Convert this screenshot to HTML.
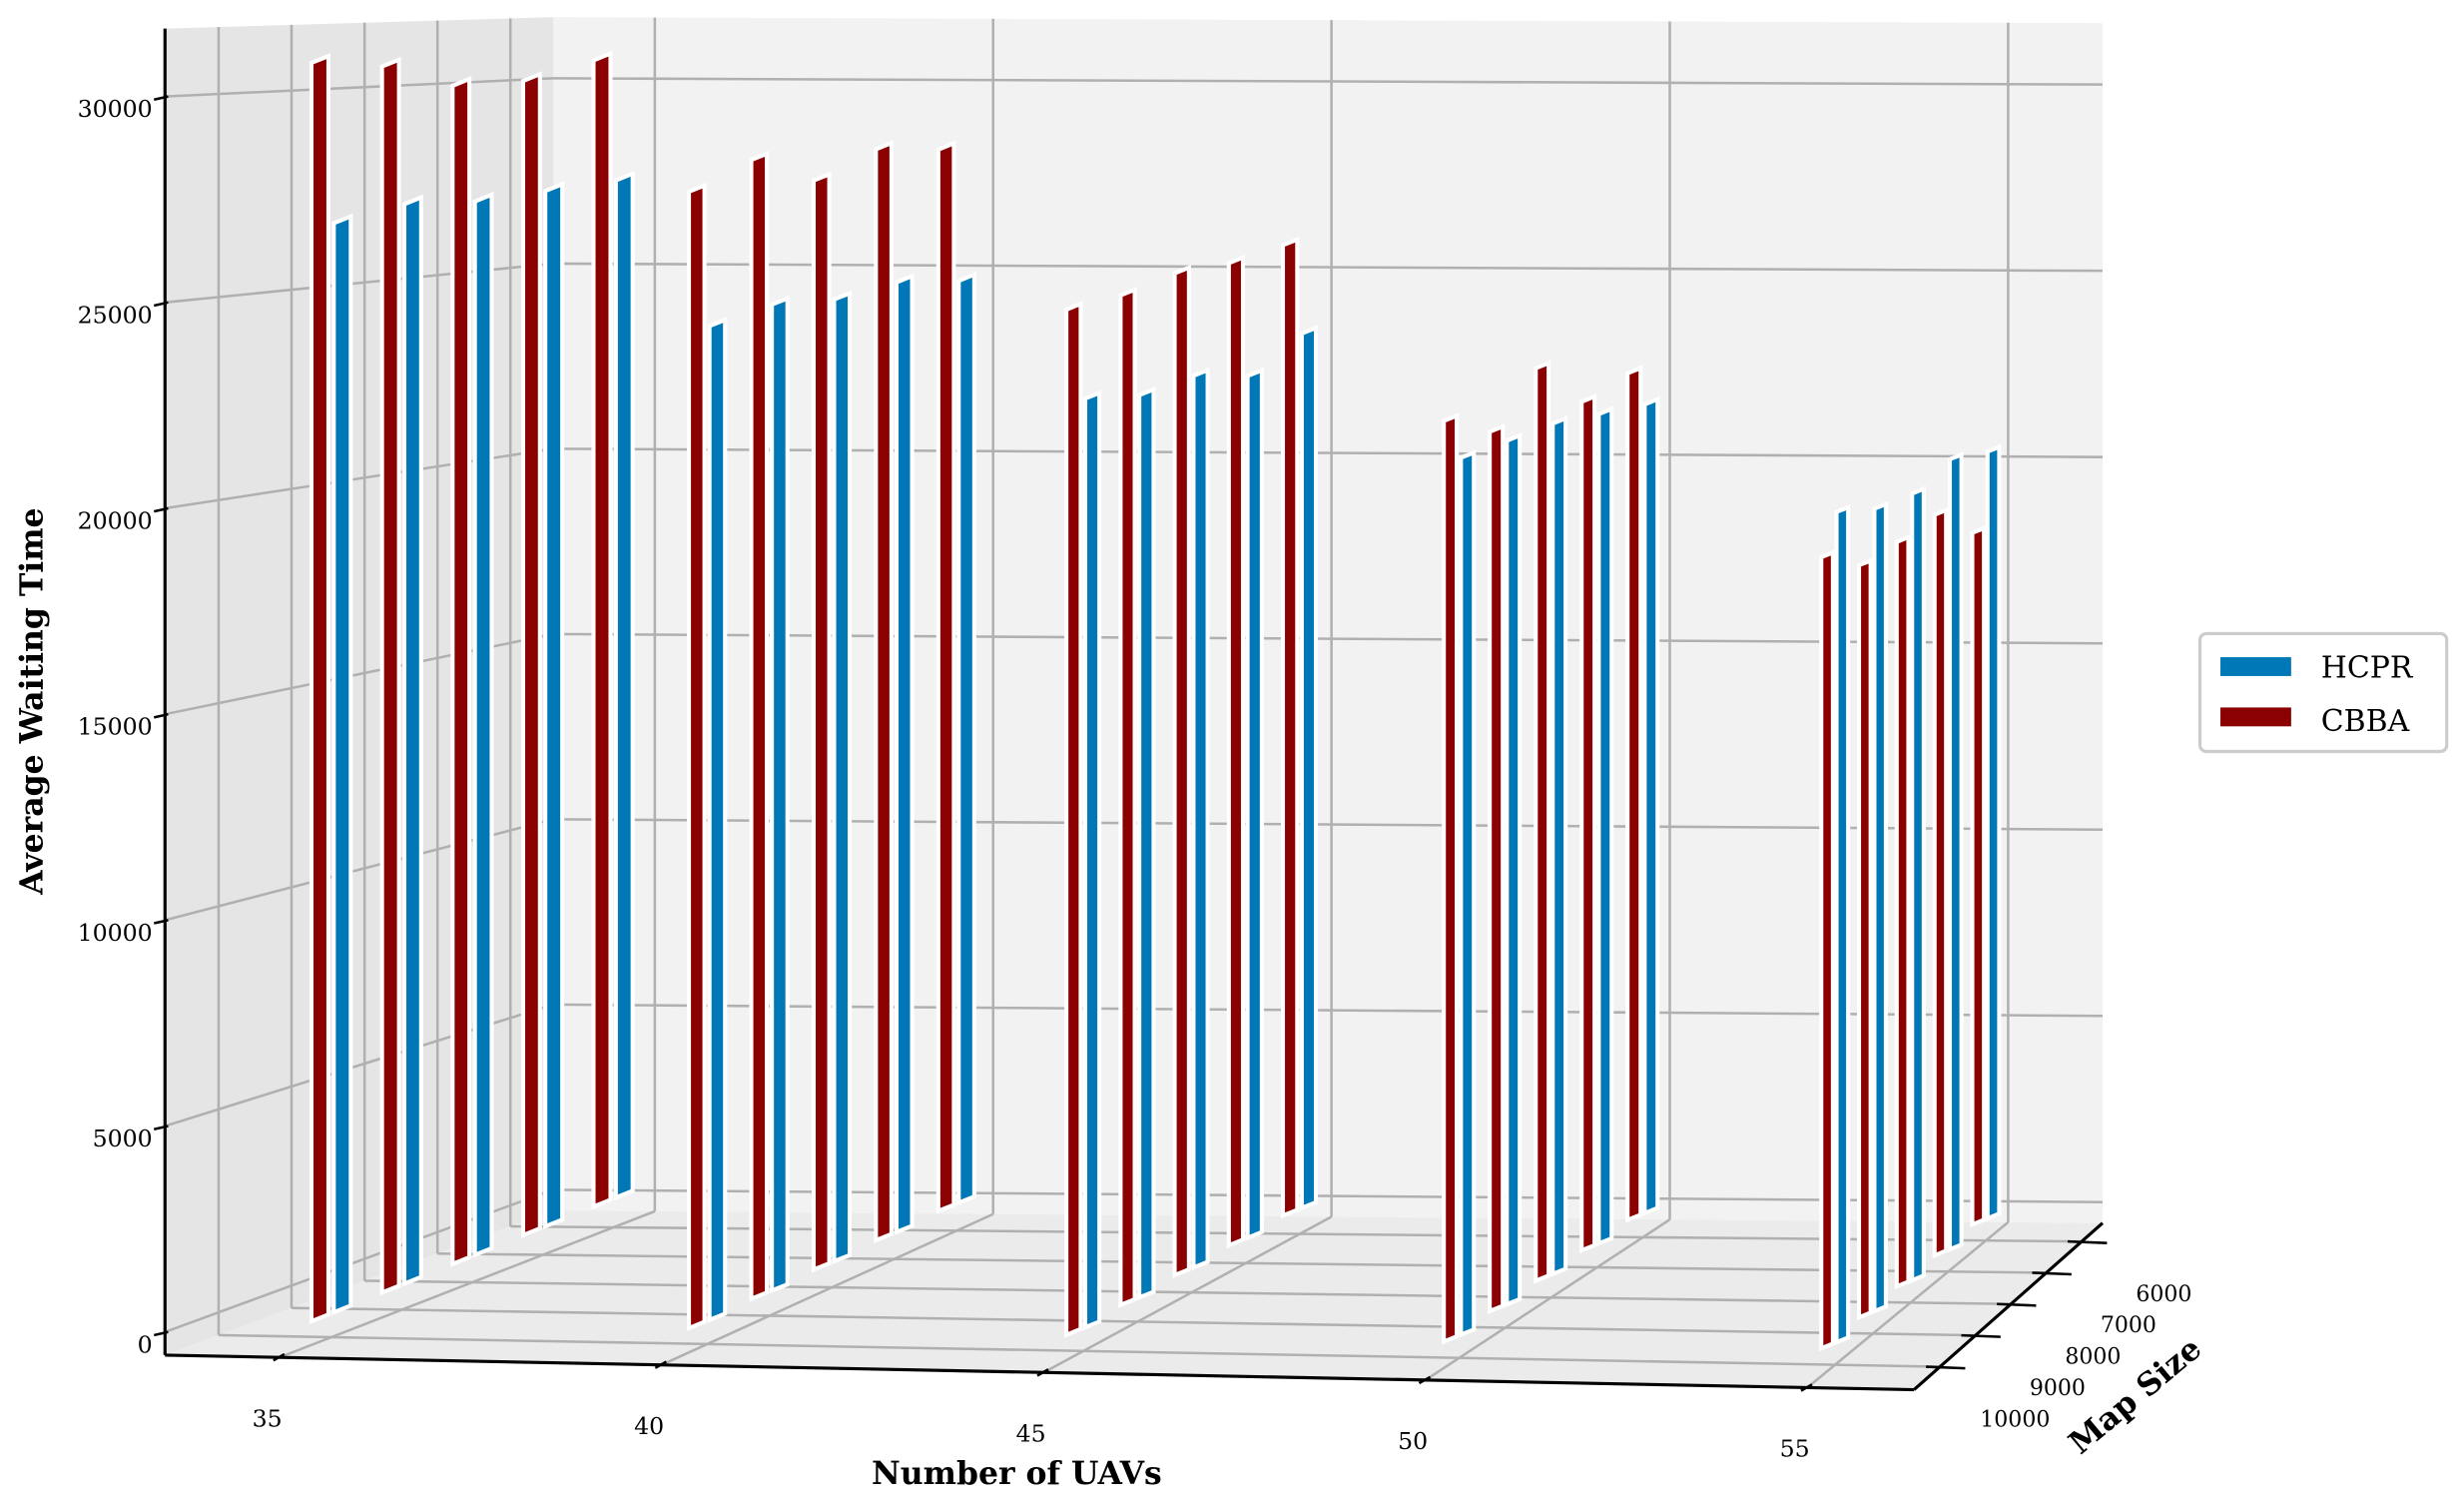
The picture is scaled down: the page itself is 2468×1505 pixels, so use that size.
<!DOCTYPE html>
<html><head><meta charset="utf-8"><style>
html,body{margin:0;padding:0;background:#fff;}
svg{display:block;font-family:"DejaVu Serif","Liberation Serif",serif;}
</style></head><body>
<svg id="chart" width="2468" height="1505" viewBox="0 0 1568 956" xmlns="http://www.w3.org/2000/svg">
<g id="panes"></g>
<g id="grid"></g>
<g id="axes"></g>
<g id="bars"></g>
<g id="labels"></g>
<text x="0" y="0" transform="translate(27,446) rotate(-90)" text-anchor="middle" font-size="20" font-weight="bold">Average Waiting Time</text>
<text x="647" y="944" text-anchor="middle" font-size="20" font-weight="bold">Number of UAVs</text>
<text x="0" y="0" transform="translate(1363,893) rotate(-40)" text-anchor="middle" font-size="20" font-weight="bold">Map Size</text>
<g>
<rect x="1400" y="403" width="157" height="75" rx="4" fill="#fff" stroke="#cccccc" stroke-width="2"/>
<rect x="1413" y="418" width="45" height="12" fill="#0077b6"/>
<text x="1477" y="431" font-size="19">HCPR</text>
<rect x="1413" y="450" width="45" height="12" fill="#8b0000"/>
<text x="1477" y="465" font-size="19">CBBA</text>
</g>
</svg>
<script>
const uavs = [35, 40, 45, 50, 55];
const mapSizes = [6000, 7000, 8000, 9000, 10000];
const zTicks = [0, 5000, 10000, 15000, 20000, 25000, 30000];
// values indexed [uav][mapSize in order 6000..10000]
const cbba = [
  [29300, 29100, 29300, 30100, 30500],
  [27400, 27800, 27400, 28300, 27900],
  [25300, 25300, 25500, 25400, 25500],
  [22300, 22100, 23500, 22400, 23200],
  [18400, 19500, 19400, 19400, 20200]
];
const hcpr = [
  [26000, 26100, 26200, 26500, 26400],
  [23800, 24200, 24200, 24500, 24400],
  [22800, 22200, 22700, 22700, 23100],
  [21300, 21600, 21900, 22000, 22100],
  [20400, 20800, 20500, 20700, 21200]
];

const NS = 'http://www.w3.org/2000/svg';
const F0=[105,862],F1=[1218,884],B0=[352,770],B1=[1338,778];
const sFL=0.0262,sFR=0.0250,sBL=0.02357,sBR=0.0237;
const zmin=-560, zmax=31650;
function lerp(a,b,t){return [a[0]+(b[0]-a[0])*t,a[1]+(b[1]-a[1])*t];}
function uOf(n){return 0.0656+(n-35)*0.04367;}
function vOf(m){return 0.138+(10000-m)/4000*0.752;}
function floorPt(u,v){return lerp(lerp(F0,F1,u),lerp(B0,B1,u),v);}
function sc(u,v){const a=sFL+(sFR-sFL)*u,b=sBL+(sBR-sBL)*u;return a+(b-a)*v;}
function pt(u,v,z){const p=floorPt(u,v);return [p[0],p[1]-(z-zmin)*sc(u,v)];}
function mk(tag,parent,attrs){const e=document.createElementNS(NS,tag);for(const k in attrs)e.setAttribute(k,attrs[k]);parent.appendChild(e);return e;}
const panes=document.getElementById('panes'),grid=document.getElementById('grid'),axes=document.getElementById('axes'),bars=document.getElementById('bars'),labels=document.getElementById('labels');
function poly(ps){return ps.map(p=>p[0].toFixed(1)+','+p[1].toFixed(1)).join(' ');}

let e;
e=mk('polygon',panes,{points:poly([pt(0,0,zmin),pt(0,1,zmin),pt(0,1,zmax),pt(0,0,zmax)]),fill:'#e5e5e5'});


e=mk('polygon',panes,{points:poly([pt(0,1,zmin),pt(1,1,zmin),pt(1,1,zmax),pt(0,1,zmax)]),fill:'#f2f2f2'});


e=mk('polygon',panes,{points:poly([pt(0,0,zmin),pt(1,0,zmin),pt(1,1,zmin),pt(0,1,zmin)]),fill:'#ebebeb'});



function line(parent,a,b,stroke,w,name){const l=mk('line',parent,{x1:a[0].toFixed(1),y1:a[1].toFixed(1),x2:b[0].toFixed(1),y2:b[1].toFixed(1),stroke:stroke,'stroke-width':w});


return l;}
const G='#b0b0b0',GW=1.6;
zTicks.forEach(z=>{line(grid,pt(0,0,z),pt(0,1,z),G,GW,'z-gridline');line(grid,pt(0,1,z),pt(1,1,z),G,GW,'z-gridline');});
uavs.forEach(n=>{const u=uOf(n);line(grid,pt(u,1,zmin),pt(u,1,zmax),G,GW,'uav-gridline');line(grid,pt(u,0,zmin),pt(u,1,zmin),G,GW,'uav-gridline');});
mapSizes.forEach(m=>{const v=vOf(m);line(grid,pt(0,v,zmin),pt(0,v,zmax),G,GW,'map-gridline');line(grid,pt(0,v,zmin),pt(1,v,zmin),G,GW,'map-gridline');});

line(axes,pt(0,0,zmin),pt(0,0,zmax),'#000',2,'z-axis-line');
line(axes,pt(0,0,zmin),pt(1,0,zmin),'#000',2,'x-axis-line');
line(axes,pt(1,0,zmin),pt(1,1,zmin),'#000',2,'map-axis-line');
zTicks.forEach(z=>{const p=pt(0,0,z);line(axes,[p[0]-7,p[1]+2],[p[0]+2,p[1]],'#000',1.6,'z-tick');
  const t=mk('text',labels,{x:p[0]-8,y:p[1]+13,'text-anchor':'end','font-size':15});t.textContent=z;
  
  });
uavs.forEach(n=>{const p=pt(uOf(n),0,zmin);line(axes,[p[0]-4,p[1]+2],[p[0]+3,p[1]-2],'#000',1.6,'x-tick');
  const t=mk('text',labels,{x:p[0]-8,y:p[1]+44,'text-anchor':'middle','font-size':15});t.textContent=n;
  
  });
mapSizes.forEach(m=>{const p=pt(1,vOf(m),zmin);line(axes,[p[0]-9,p[1]],[p[0]+16,p[1]+1],'#000',1.6,'map-tick');
  const t=mk('text',labels,{x:p[0]+70,y:p[1]+38,'text-anchor':'end','font-size':14});t.textContent=m;
  
  });

function bar(u,v,val,dx,color,name){
  const c0=pt(u,v,0),k=1-0.35*u,w=11*k,s=sc(u,v)*(1+(0.015+0.035*v)*(1-u));
  const c=[c0[0],c0[1]-6*v*(1-u)];
  const x=c[0]+dx*k;
  const yb=x2=>c[1]-(x2-c[0])*0.4;
  const h=val*s;
  const ps=[[x,yb(x)],[x+w,yb(x+w)],[x+w,yb(x+w)-h],[x,yb(x)-h]];
  const p=mk('polygon',bars,{points:poly(ps),fill:color,stroke:'#fff','stroke-width':2.6,'stroke-linejoin':'miter'});
  
  
}
for(let j=0;j<mapSizes.length;j++){
  const v=vOf(mapSizes[j]);
  for(let i=0;i<uavs.length;i++){
    const u=uOf(uavs[i]);
    bar(u,v,hcpr[i][j],1.5,'#0077b6','bar-hcpr');
    bar(u,v,cbba[i][j],-13,'#8b0000','bar-cbba');
  }
}
</script>
</body></html>
